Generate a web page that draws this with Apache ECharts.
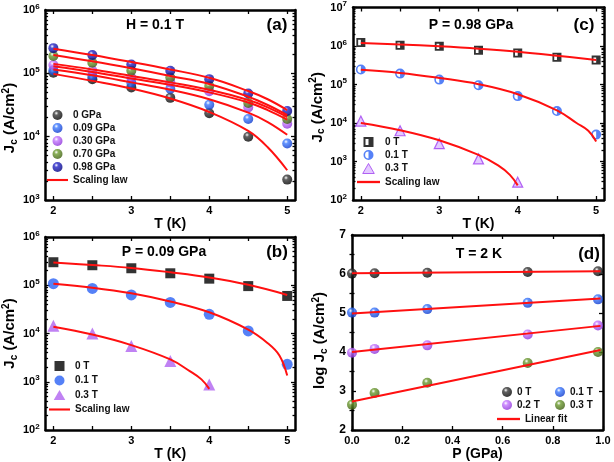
<!DOCTYPE html>
<html><head><meta charset="utf-8">
<script src="https://cdn.jsdelivr.net/npm/echarts@6/dist/echarts.min.js"></script>
<style>html,body{margin:0;padding:0;background:#fff}#c{width:614px;height:462px}</style>
</head><body><div id="c"></div>
<script>
// ---------- data ----------
const T = [2, 2.5, 3, 3.5, 4, 4.5, 5];
const T4 = [2, 2.5, 3, 3.5, 4];
const TFit8 = [2, 2.5, 3, 3.5, 4, 4.5, 4.75, 5];
const TFit9 = [2, 2.5, 3, 3.5, 4, 4.5, 4.75, 4.9, 5];
const TFitLow = [2, 2.5, 3, 3.5, 3.75, 3.9, 4];

// (a) H = 0.1 T
const aJ0   = [1.02e5, 8.1e4, 6.0e4, 4.1e4, 2.35e4, 1.0e4, 2.1e3];
const aJ009 = [1.12e5, 9.1e4, 7.1e4, 5.7e4, 3.2e4, 1.9e4, 7.8e3];
const aJ030 = [1.35e5, 1.1e5, 8.6e4, 7.2e4, 5.2e4, 2.9e4, 1.6e4];
const aJ070 = [1.88e5, 1.47e5, 1.1e5, 8.6e4, 6.3e4, 3.4e4, 1.9e4];
const aJ098 = [2.5e5, 1.94e5, 1.38e5, 1.1e5, 8.1e4, 4.8e4, 2.55e4];
const aFit098 = [2.45e5, 1.95e5, 1.51e5, 1.15e5, 8.5e4, 5.25e4, 3.9e4, 2.63e4];
const aFit070 = [1.95e5, 1.55e5, 1.2e5, 9.1e4, 6.8e4, 4.27e4, 3.16e4, 2.19e4];
const aFit030 = [1.41e5, 1.15e5, 9.1e4, 7.2e4, 5.5e4, 3.8e4, 2.9e4, 2.04e4];
const aFit030b = [1.29e5, 1.05e5, 8.3e4, 6.6e4, 5.0e4, 3.47e4, 2.63e4, 1.86e4];
const aFit009 = [1.15e5, 9.3e4, 7.2e4, 5.5e4, 3.9e4, 2.4e4, 1.7e4, 1.07e4];
const aFit0   = [9.8e4, 7.6e4, 5.75e4, 4.0e4, 2.45e4, 1.23e4, 6.8e3, 2.95e3];

// (b) P = 0.09 GPa
const bJ0  = [3.0e5, 2.6e5, 2.25e5, 1.77e5, 1.37e5, 9.6e4, 6.0e4];
const bJ01 = [1.08e5, 8.6e4, 6.3e4, 4.4e4, 2.5e4, 1.13e4, 2.3e3];
const bJ03 = [1.45e4, 1.0e4, 5.5e3, 2.7e3, 880];
const bFit0  = [2.95e5, 2.63e5, 2.29e5, 1.86e5, 1.45e5, 1.02e5, 6.3e4];
const bFit01 = [1.07e5, 8.9e4, 6.8e4, 4.6e4, 2.75e4, 1.2e4, 6.3e3, 3.5e3, 1.35e3];
const bFit03 = [1.38e4, 9.5e3, 5.75e3, 2.9e3, 1.66e3, 1.12e3, 710];

// (c) P = 0.98 GPa
const cJ0  = [1.23e6, 1.05e6, 9.8e5, 7.7e5, 6.6e5, 5.1e5, 4.3e5];
const cJ01 = [2.45e5, 1.92e5, 1.34e5, 9.6e4, 5.0e4, 2.04e4, 5.0e3];
const cJ03 = [1.12e4, 6.3e3, 2.9e3, 1.17e3, 290];
const cFit0  = [1.2e6, 1.1e6, 9.8e5, 8.5e5, 7.1e5, 5.6e5, 4.3e5];
const cFit01 = [2.4e5, 2.0e5, 1.48e5, 1.02e5, 5.6e4, 2.14e4, 1.0e4, 6.3e3, 3.3e3];
const cFit03 = [1.0e4, 6.5e3, 3.55e3, 1.48e3, 790, 450, 240];

// (d) T = 2 K
const dP   = [0, 0.09, 0.3, 0.7, 0.98];
const d0   = [6.01, 6.02, 6.03, 6.05, 6.07];
const d01  = [5.01, 5.01, 5.10, 5.26, 5.35];
const d02  = [3.98, 4.08, 4.17, 4.45, 4.68];
const d03  = [2.65, 2.95, 3.21, 3.72, 4.00];
const dFitP  = [0, 0.99];
const dFit0  = [6.02, 6.07];
const dFit01 = [4.99, 5.37];
const dFit02 = [4.00, 4.67];
const dFit03 = [2.73, 4.05];

// tick values
const tTicks = [2, 2.5, 3, 3.5, 4, 4.5, 5];
const tLabels = [2, 3, 4, 5];
const logA = [1e3, 1e4, 1e5, 1e6];
const logB = [1e2, 1e3, 1e4, 1e5, 1e6];
const logC = [1e2, 1e3, 1e4, 1e5, 1e6, 1e7];
const pTicks = [0, 0.2, 0.4, 0.6, 0.8, 1.0];
const dTicks = [2, 3, 4, 5, 6, 7];
const dMinor = [2.5, 3.5, 4.5, 5.5, 6.5];

// ---------- helpers ----------
const FONT = 'Liberation Sans, Arial, Helvetica, sans-serif';
function pts(xs, ys) { return xs.map((x, i) => [x, ys[i]]); }
function minorLog(majors) {
  const out = [];
  for (let i = 0; i < majors.length - 1; i++) for (let m = 2; m <= 9; m++) out.push(m * majors[i]);
  return out;
}
function sphere(c, dark) {
  return {type: 'radial', x: 0.38, y: 0.32, r: 0.72,
    colorStops: [{offset: 0, color: '#ffffff'}, {offset: 0.28, color: c}, {offset: 1, color: dark}]};
}
const logRich = {
  b: {fontSize: 11, fontWeight: 'bold', color: '#000', fontFamily: FONT},
  s: {fontSize: 8, fontWeight: 'bold', color: '#000', fontFamily: FONT, padding: [0, 0, 7, 0]}
};
function logFmt(v) { return '{b|10}{s|' + Math.round(Math.log10(v)) + '}'; }
function nameRich(sz) {
  return {
    t: {fontSize: sz, fontWeight: 'bold', color: '#000', fontFamily: FONT},
    sub: {fontSize: 10, fontWeight: 'bold', color: '#000', fontFamily: FONT, padding: [8, 0, 0, 0]},
    sup: {fontSize: 10, fontWeight: 'bold', color: '#000', fontFamily: FONT, padding: [0, 0, 8, 0]}
  };
}
function tick(len, vals) {
  return {show: true, inside: true, length: len, customValues: vals, lineStyle: {color: '#000', width: 1.3}};
}
function xPair(gi, min, max, ticks, labels, fmt, name, gap) {
  const base = () => ({type: 'value', gridIndex: gi, min: min, max: max, splitLine: {show: false}});
  return [
    Object.assign(base(), {position: 'bottom',
      axisLine: {show: true, onZero: false, lineStyle: {color: '#000', width: 2.5}},
      axisTick: tick(4, ticks),
      axisLabel: {show: true, customValues: labels, formatter: fmt, fontSize: 11, fontWeight: 'bold', color: '#000', fontFamily: FONT, margin: 5},
      name: name, nameLocation: 'middle', nameGap: gap,
      nameTextStyle: {fontSize: 14, fontWeight: 'bold', color: '#000', fontFamily: FONT}}),
    Object.assign(base(), {position: 'top',
      axisLine: {show: true, onZero: false, lineStyle: {color: '#000', width: 2.5}},
      axisTick: tick(4, ticks), axisLabel: {show: false}})
  ];
}
function yQuad(gi, isLog, min, max, majors, minors, label, name, gap, pad) {
  const base = () => {
    const o = {type: isLog ? 'log' : 'value', gridIndex: gi, min: min, max: max, splitLine: {show: false}};
    if (isLog) o.logBase = 10;
    return o;
  };
  return [
    Object.assign(base(), {position: 'left',
      axisLine: {show: true, onZero: false, lineStyle: {color: '#000', width: 2.5}},
      axisTick: tick(4, majors), axisLabel: label,
      name: name, nameLocation: 'middle', nameGap: gap, nameRotate: 90,
      nameTextStyle: {fontSize: 15, fontWeight: 'bold', color: '#000', fontFamily: FONT, rich: nameRich(15), padding: pad}}),
    Object.assign(base(), {position: 'left', axisLine: {show: false}, axisTick: tick(2.5, minors), axisLabel: {show: false}}),
    Object.assign(base(), {position: 'right',
      axisLine: {show: true, onZero: false, lineStyle: {color: '#000', width: 2.5}},
      axisTick: tick(4, majors), axisLabel: {show: false}}),
    Object.assign(base(), {position: 'right', axisLine: {show: false}, axisTick: tick(2.5, minors), axisLabel: {show: false}})
  ];
}
function logLabel(vals) {
  return {show: true, customValues: vals, formatter: logFmt, rich: logRich, margin: 6};
}
const RED = '#ff1010';
function fit(name, xi, yi, xs, ys) {
  return {type: 'line', name: name, xAxisIndex: xi, yAxisIndex: yi, data: pts(xs, ys),
    smooth: xs.length > 2 ? 0.4 : false, symbol: 'none', showSymbol: false,
    lineStyle: {color: RED, width: 2}, itemStyle: {color: RED}, z: 4, silent: true};
}
function scat(name, xi, yi, xs, ys, symbol, size, style) {
  return {type: 'scatter', name: name, xAxisIndex: xi, yAxisIndex: yi, data: pts(xs, ys),
    symbol: symbol, symbolSize: size, itemStyle: style, z: 3, silent: true};
}
const SQ_FULL = 'path://M0,0L10,0L10,10L0,10Z';
const SQ_HALF = 'path://M0,0L10,0L10,10L0,10Z M2,2L2,8L5,8L5,2Z';
const CI_HALF = 'path://M5,0A5,5 0 1,1 5,10A5,5 0 1,1 5,0Z M5,1.6A3.4,3.4 0 0,0 5,8.4Z';
const TRI = 'path://M6,0L12,10.4L0,10.4Z';
const LINE_ICON = 'path://M0,0L22,0L22,2.2L0,2.2Z';

const cBlack = sphere('#3a3a3a', '#000000');
const cBlue = sphere('#3d7bff', '#0b35c8');
const cPurple = sphere('#c477ff', '#8a2fd6');
const cGreen = sphere('#6d9c30', '#3a5a0c');
const cNavy = sphere('#2424c8', '#00007a');
const triStyleC = {color: '#dcbcff', borderColor: '#a040f0', borderWidth: 1.2};

const series = [
  // (a)
  scat('a:0 GPa', 0, 0, T, aJ0, 'circle', 10, {color: cBlack}),
  scat('a:0.09 GPa', 0, 0, T, aJ009, 'circle', 10, {color: cBlue}),
  scat('a:0.30 GPa', 0, 0, T, aJ030, 'circle', 10, {color: cPurple}),
  scat('a:0.70 GPa', 0, 0, T, aJ070, 'circle', 10, {color: cGreen}),
  scat('a:0.98 GPa', 0, 0, T, aJ098, 'circle', 10, {color: cNavy}),
  fit('a:Scaling law', 0, 0, TFit8, aFit098),
  fit('a:Scaling law', 0, 0, TFit8, aFit070),
  fit('a:Scaling law', 0, 0, TFit8, aFit030),
  fit('a:Scaling law', 0, 0, TFit8, aFit030b),
  fit('a:Scaling law', 0, 0, TFit8, aFit009),
  fit('a:Scaling law', 0, 0, TFit8, aFit0),
  // (b)
  scat('b:0 T', 2, 4, T, bJ0, SQ_FULL, 10, {color: '#000'}),
  scat('b:0.1 T', 2, 4, T, bJ01, 'circle', 11, {color: '#2a62f5'}),
  scat('b:0.3 T', 2, 4, T4, bJ03, TRI, 12, {color: '#b063f0'}),
  fit('b:Scaling law', 2, 4, T, bFit0),
  fit('b:Scaling law', 2, 4, TFit9, bFit01),
  fit('b:Scaling law', 2, 4, TFitLow, bFit03),
  // (c)
  scat('c:bg0', 4, 8, T, cJ0, 'rect', 9, {color: '#fff'}),
  scat('c:bg1', 4, 8, T, cJ01, 'circle', 10, {color: '#fff'}),
  scat('c:0 T', 4, 8, T, cJ0, SQ_HALF, 9, {color: '#000'}),
  scat('c:0.1 T', 4, 8, T, cJ01, CI_HALF, 10, {color: '#2a62f5'}),
  scat('c:0.3 T', 4, 8, T4, cJ03, TRI, 10, triStyleC),
  fit('c:Scaling law', 4, 8, T, cFit0),
  fit('c:Scaling law', 4, 8, TFit9, cFit01),
  fit('c:Scaling law', 4, 8, TFitLow, cFit03),
  // (d)
  scat('d:0 T', 6, 12, dP, d0, 'circle', 10, {color: cBlack}),
  scat('d:0.1 T', 6, 12, dP, d01, 'circle', 10, {color: cBlue}),
  scat('d:0.2 T', 6, 12, dP, d02, 'circle', 10, {color: cPurple}),
  scat('d:0.3 T', 6, 12, dP, d03, 'circle', 10, {color: cGreen}),
  fit('d:Linear fit', 6, 12, dFitP, dFit0),
  fit('d:Linear fit', 6, 12, dFitP, dFit01),
  fit('d:Linear fit', 6, 12, dFitP, dFit02),
  fit('d:Linear fit', 6, 12, dFitP, dFit03)
];

function legend(left, top, data, iw, gap) {
  return {left: left, top: top, orient: 'vertical', itemWidth: iw, itemHeight: 10, itemGap: gap,
    data: data.map(d => (typeof d === 'string' ? {name: d} : d)), selectedMode: false,
    formatter: n => n.slice(2), padding: 0,
    textStyle: {fontSize: 10, fontWeight: 'bold', color: '#111', fontFamily: FONT}};
}
const lineItem = n => ({name: n, icon: LINE_ICON});

const fmtInt = v => String(v);
const fmt1 = v => v.toFixed(1);

const option = {
  animation: false,
  textStyle: {fontFamily: FONT},
  grid: [
    {left: 41, top: 10, width: 254, height: 190},
    {left: 41, top: 237, width: 254, height: 193},
    {left: 353, top: 7, width: 251, height: 193},
    {left: 352, top: 235, width: 251, height: 195}
  ],
  xAxis: [].concat(
    xPair(0, 1.9, 5.1, tTicks, tLabels, fmtInt, 'T (K)', 11),
    xPair(1, 1.9, 5.1, tTicks, tLabels, fmtInt, 'T (K)', 12),
    xPair(2, 1.9, 5.1, tTicks, tLabels, fmtInt, 'T (K)', 5),
    xPair(3, 0, 1, pTicks, pTicks, fmt1, 'P (GPa)', 12)
  ),
  yAxis: [].concat(
    yQuad(0, true, 1e3, 1e6, logA, minorLog(logA), logLabel(logA), '{t|J}{sub|c}{t| (A/cm}{sup|2}{t|)}', 19, [0, 26, 0, 0]),
    yQuad(1, true, 1e2, 1e6, logB, minorLog(logB), logLabel(logB), '{t|J}{sub|c}{t| (A/cm}{sup|2}{t|)}', 19, [0, 0, 0, 0]),
    yQuad(2, true, 1e2, 1e7, logC, minorLog(logC), logLabel(logC), '{t|J}{sub|c}{t| (A/cm}{sup|2}{t|)}', 19, [0, 7, 0, 0]),
    yQuad(3, false, 2, 7, dTicks, dMinor,
      {show: true, customValues: dTicks, fontSize: 12, fontWeight: 'bold', color: '#000', fontFamily: FONT, margin: 6},
      '{t|log J}{sub|c}{t| (A/cm}{sup|2}{t|)}', 23, [0, 16, 0, 0])
  ),
  legend: [
    legend(47, 110, ['a:0 GPa', 'a:0.09 GPa', 'a:0.30 GPa', 'a:0.70 GPa', 'a:0.98 GPa', lineItem('a:Scaling law')], 21, 3),
    legend(49, 361, [{name: 'b:0 T', icon: SQ_FULL}, 'b:0.1 T', {name: 'b:0.3 T', icon: TRI}, lineItem('b:Scaling law')], 21, 4.5),
    legend(357, 137, [{name: 'c:0 T', icon: SQ_HALF}, {name: 'c:0.1 T', icon: CI_HALF},
      {name: 'c:0.3 T', icon: TRI, itemStyle: {borderWidth: 1}}, lineItem('c:Scaling law')], 23, 3),
    legend(502, 387, ['d:0 T', 'd:0.2 T'], 10, 3),
    legend(555, 387, ['d:0.1 T', 'd:0.3 T'], 10, 3),
    legend(497, 414, [lineItem('d:Linear fit')], 23, 3)
  ],
  graphic: [
    {type: 'text', x: 155, y: 25, style: {text: 'H = 0.1 T', font: 'bold 14px ' + FONT, fill: '#000', align: 'center', verticalAlign: 'middle'}},
    {type: 'text', x: 277, y: 25, style: {text: '(a)', font: 'bold 17px ' + FONT, fill: '#000', align: 'center', verticalAlign: 'middle'}},
    {type: 'text', x: 164, y: 252, style: {text: 'P = 0.09 GPa', font: 'bold 14px ' + FONT, fill: '#000', align: 'center', verticalAlign: 'middle'}},
    {type: 'text', x: 277, y: 252, style: {text: '(b)', font: 'bold 17px ' + FONT, fill: '#000', align: 'center', verticalAlign: 'middle'}},
    {type: 'text', x: 471, y: 25, style: {text: 'P = 0.98 GPa', font: 'bold 14px ' + FONT, fill: '#000', align: 'center', verticalAlign: 'middle'}},
    {type: 'text', x: 584, y: 25, style: {text: '(c)', font: 'bold 17px ' + FONT, fill: '#000', align: 'center', verticalAlign: 'middle'}},
    {type: 'text', x: 479, y: 254, style: {text: 'T = 2 K', font: 'bold 14px ' + FONT, fill: '#000', align: 'center', verticalAlign: 'middle'}},
    {type: 'text', x: 589, y: 254, style: {text: '(d)', font: 'bold 17px ' + FONT, fill: '#000', align: 'center', verticalAlign: 'middle'}}
  ],
  series: series
};
const chart = echarts.init(document.getElementById('c'), null, {renderer: 'canvas'});
chart.setOption(option);
</script>
</body></html>
